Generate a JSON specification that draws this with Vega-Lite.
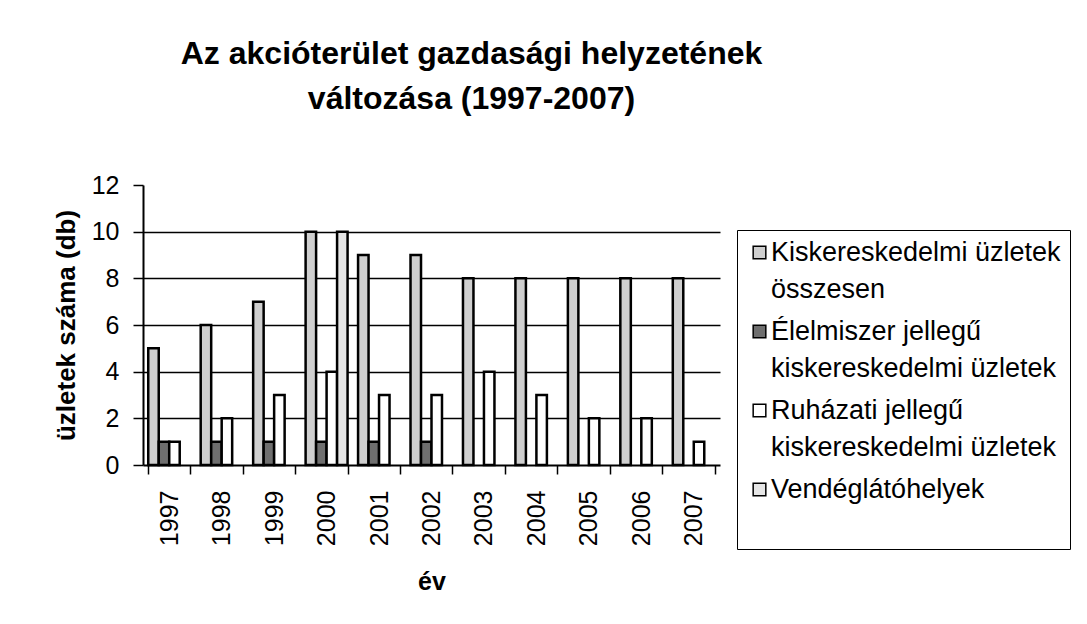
{
  "$schema": "https://vega.github.io/schema/vega-lite/v6.json",
  "width": 577,
  "height": 280,
  "autosize": {"type": "none"},
  "padding": {"left": 143, "top": 185, "right": 367, "bottom": 159},
  "background": "white",
  "title": {
    "text": ["Az akcióterület gazdasági helyzetének", "változása (1997-2007)"],
    "font": "Liberation Sans",
    "fontSize": 32,
    "fontWeight": "bold",
    "color": "black",
    "anchor": "middle",
    "dx": 40,
    "offset": 57,
    "lineHeight": 45
  },
  "data": {
    "values": [
      {"year": "1997", "series": "Kiskereskedelmi üzletek összesen", "value": 5},
      {"year": "1998", "series": "Kiskereskedelmi üzletek összesen", "value": 6},
      {"year": "1999", "series": "Kiskereskedelmi üzletek összesen", "value": 7},
      {"year": "2000", "series": "Kiskereskedelmi üzletek összesen", "value": 10},
      {"year": "2001", "series": "Kiskereskedelmi üzletek összesen", "value": 9},
      {"year": "2002", "series": "Kiskereskedelmi üzletek összesen", "value": 9},
      {"year": "2003", "series": "Kiskereskedelmi üzletek összesen", "value": 8},
      {"year": "2004", "series": "Kiskereskedelmi üzletek összesen", "value": 8},
      {"year": "2005", "series": "Kiskereskedelmi üzletek összesen", "value": 8},
      {"year": "2006", "series": "Kiskereskedelmi üzletek összesen", "value": 8},
      {"year": "2007", "series": "Kiskereskedelmi üzletek összesen", "value": 8},
      {"year": "1997", "series": "Élelmiszer jellegű kiskereskedelmi üzletek", "value": 1},
      {"year": "1998", "series": "Élelmiszer jellegű kiskereskedelmi üzletek", "value": 1},
      {"year": "1999", "series": "Élelmiszer jellegű kiskereskedelmi üzletek", "value": 1},
      {"year": "2000", "series": "Élelmiszer jellegű kiskereskedelmi üzletek", "value": 1},
      {"year": "2001", "series": "Élelmiszer jellegű kiskereskedelmi üzletek", "value": 1},
      {"year": "2002", "series": "Élelmiszer jellegű kiskereskedelmi üzletek", "value": 1},
      {"year": "1997", "series": "Ruházati jellegű kiskereskedelmi üzletek", "value": 1},
      {"year": "1998", "series": "Ruházati jellegű kiskereskedelmi üzletek", "value": 2},
      {"year": "1999", "series": "Ruházati jellegű kiskereskedelmi üzletek", "value": 3},
      {"year": "2000", "series": "Ruházati jellegű kiskereskedelmi üzletek", "value": 4},
      {"year": "2001", "series": "Ruházati jellegű kiskereskedelmi üzletek", "value": 3},
      {"year": "2002", "series": "Ruházati jellegű kiskereskedelmi üzletek", "value": 3},
      {"year": "2003", "series": "Ruházati jellegű kiskereskedelmi üzletek", "value": 4},
      {"year": "2004", "series": "Ruházati jellegű kiskereskedelmi üzletek", "value": 3},
      {"year": "2005", "series": "Ruházati jellegű kiskereskedelmi üzletek", "value": 2},
      {"year": "2006", "series": "Ruházati jellegű kiskereskedelmi üzletek", "value": 2},
      {"year": "2007", "series": "Ruházati jellegű kiskereskedelmi üzletek", "value": 1},
      {"year": "2000", "series": "Vendéglátóhelyek", "value": 10}
    ]
  },
  "mark": {"type": "bar", "stroke": "black", "strokeWidth": 2.5},
  "encoding": {
    "x": {
      "field": "year",
      "type": "nominal",
      "scale": {"paddingInner": 0.2, "paddingOuter": 0.1},
      "axis": {
        "title": "év",
        "titleFont": "Liberation Sans",
        "titleFontSize": 25,
        "titleFontWeight": "bold",
        "titleColor": "black",
        "titlePadding": 24,
        "labelAngle": -90,
        "labelAlign": "right",
        "labelBaseline": "middle",
        "labelFont": "Liberation Sans",
        "labelFontSize": 25,
        "labelColor": "black",
        "labelPadding": 16,
        "tickBand": "extent",
        "tickSize": 9,
        "tickColor": "black",
        "tickWidth": 1.5,
        "domainColor": "black",
        "domainWidth": 2
      }
    },
    "xOffset": {
      "field": "series",
      "type": "nominal",
      "scale": {"domain": ["Kiskereskedelmi üzletek összesen", "Élelmiszer jellegű kiskereskedelmi üzletek", "Ruházati jellegű kiskereskedelmi üzletek", "Vendéglátóhelyek"]}
    },
    "y": {
      "field": "value",
      "type": "quantitative",
      "scale": {"domain": [0, 12], "nice": false},
      "axis": {
        "title": "üzletek száma (db)",
        "titleFont": "Liberation Sans",
        "titleFontSize": 26,
        "titleFontWeight": "bold",
        "titleColor": "black",
        "titlePadding": 12,
        "values": [0, 2, 4, 6, 8, 10, 12],
        "labelFont": "Liberation Sans",
        "labelFontSize": 25,
        "labelColor": "black",
        "labelPadding": 14,
        "tickSize": 10,
        "tickColor": "black",
        "tickWidth": 1.5,
        "domainColor": "black",
        "domainWidth": 2,
        "grid": true,
        "gridWidth": 1.5,
        "gridColor": {"condition": {"test": "datum.value >= 12 || datum.value <= 0", "value": "transparent"}, "value": "black"}
      }
    },
    "fill": {
      "field": "series",
      "type": "nominal",
      "scale": {
        "domain": ["Kiskereskedelmi üzletek összesen", "Élelmiszer jellegű kiskereskedelmi üzletek", "Ruházati jellegű kiskereskedelmi üzletek", "Vendéglátóhelyek"],
        "range": ["#cfcfcf", "#6f6f6f", "#ffffff", "#e6e6e6"]
      },
      "legend": {
        "title": null,
        "orient": "none",
        "legendX": 594,
        "legendY": 45,
        "strokeColor": "black",
        "padding": 9,
        "symbolType": "square",
        "symbolSize": 160,
        "symbolStrokeColor": "black",
        "symbolStrokeWidth": 1.5,
        "symbolOpacity": 1,
        "labelFont": "Liberation Sans",
        "labelFontSize": 27,
        "labelColor": "black",
        "labelLimit": 500,
        "labelOffset": -2,
        "rowPadding": 14,
        "labelExpr": "datum.label === 'Kiskereskedelmi üzletek összesen' ? ['Kiskereskedelmi üzletek', 'összesen'] : datum.label === 'Élelmiszer jellegű kiskereskedelmi üzletek' ? ['Élelmiszer jellegű', 'kiskereskedelmi üzletek'] : datum.label === 'Ruházati jellegű kiskereskedelmi üzletek' ? ['Ruházati jellegű', 'kiskereskedelmi üzletek'] : [datum.label, '']"
      }
    }
  },
  "config": {
    "view": {"stroke": null},
    "style": {"guide-label": {"lineHeight": 37}}
  }
}
